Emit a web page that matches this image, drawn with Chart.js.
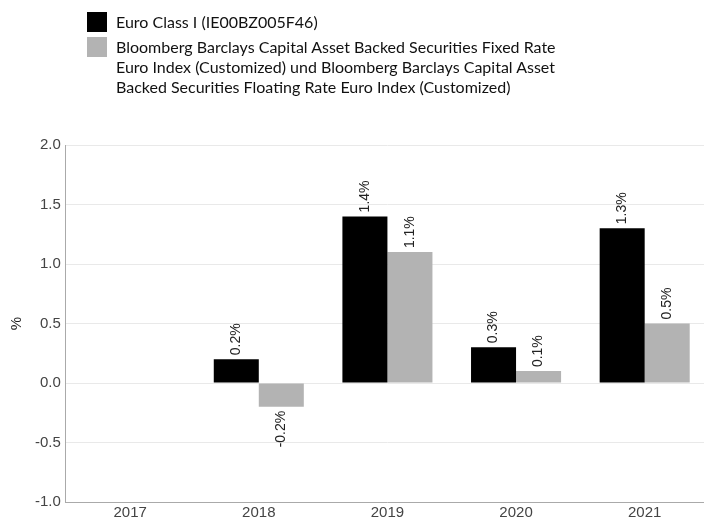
<!DOCTYPE html>
<html>
<head>
<meta charset="utf-8">
<script src="https://cdn.jsdelivr.net/npm/chart.js@4"></script>
<style>
  body { margin: 0; background: #fff; overflow: hidden; }
  #wrap { position: relative; width: 704px; height: 521px; overflow: hidden; }
  #legend { position: absolute; left: 87px; top: 12px; font-family: Lato, sans-serif; font-size: 16px; color: #111; line-height: 20px; }
  .item { display: flex; align-items: flex-start; margin-bottom: 5px; }
  .box { width: 20px; height: 20px; margin-right: 9px; flex: none; }
</style>
</head>
<body>
<div id="wrap">
  <!-- canvas a bit wider than the window: the plot area runs past the right edge -->
  <canvas id="chart" width="709" height="521"></canvas>
  <div id="legend"></div>
</div>
<script>
const years = ['2017', '2018', '2019', '2020', '2021'];
const fundName = 'Euro Class I (IE00BZ005F46)';
const indexName = 'Bloomberg Barclays Capital Asset Backed Securities Fixed Rate<br>Euro Index (Customized) und Bloomberg Barclays Capital Asset<br>Backed Securities Floating Rate Euro Index (Customized)';
const fundValues = [null, 0.2, 1.4, 0.3, 1.3];
const indexValues = [null, -0.2, 1.1, 0.1, 0.5];
const colors = ['#000000', '#b3b3b3'];

// HTML legend because the long index name wraps over three lines
const legend = document.getElementById('legend');
[fundName, indexName].forEach(function (name, i) {
    const row = document.createElement('div');
    row.className = 'item';
    row.innerHTML = '<span class="box" style="background:' + colors[i] + '"></span><span>' + name + '</span>';
    legend.appendChild(row);
});

// rotated value labels at the end of each bar
const valueLabels = {
    id: 'valueLabels',
    afterDatasetsDraw(chart) {
        const ctx = chart.ctx;
        ctx.save();
        ctx.font = '14px Arial, "Liberation Sans", sans-serif';
        ctx.fillStyle = '#222';
        ctx.textBaseline = 'middle';
        chart.data.datasets.forEach(function (ds, di) {
            chart.getDatasetMeta(di).data.forEach(function (bar, i) {
                const v = ds.data[i];
                if (v === null) return;
                ctx.save();
                if (v >= 0) {
                    ctx.translate(bar.x, bar.y - 4);
                    ctx.rotate(-Math.PI / 2);
                    ctx.textAlign = 'left';
                } else {
                    ctx.translate(bar.x, bar.y + 4);
                    ctx.rotate(-Math.PI / 2);
                    ctx.textAlign = 'right';
                }
                ctx.fillText(v.toFixed(1) + '%', 0, 0);
                ctx.restore();
            });
        });
        ctx.restore();
    }
};

const ctx = document.getElementById('chart');
new Chart(ctx, {
    type: 'bar',
    data: {
        labels: years,
        datasets: [
            { label: fundName, data: fundValues, backgroundColor: colors[0], borderWidth: 0 },
            { label: 'Index', data: indexValues, backgroundColor: colors[1], borderWidth: 0 }
        ]
    },
    options: {
        responsive: false,
        animation: false,
        font: { family: 'Arial, "Liberation Sans", sans-serif' },
        layout: { padding: { top: 145, right: 0, left: 4, bottom: -3 } },
        datasets: { bar: { categoryPercentage: 0.7, barPercentage: 1.0 } },
        plugins: { legend: { display: false }, tooltip: { enabled: false } },
        scales: {
            x: {
                grid: { display: false, drawTicks: false },
                border: { color: '#aaaaaa' },
                ticks: { color: '#444', font: { family: 'Arial, "Liberation Sans", sans-serif', size: 15 }, padding: 2 }
            },
            y: {
                min: -1, max: 2,
                ticks: { stepSize: 0.5, color: '#444', font: { family: 'Arial, "Liberation Sans", sans-serif', size: 15 }, padding: 5, callback: v => v.toFixed(1) },
                grid: { color: '#e9e9e9', drawTicks: false },
                border: { color: '#aaaaaa' },
                title: { display: true, text: '%', color: '#222', font: { family: 'Arial, "Liberation Sans", sans-serif', size: 15 } }
            }
        }
    },
    plugins: [valueLabels]
});
</script>
</body>
</html>
